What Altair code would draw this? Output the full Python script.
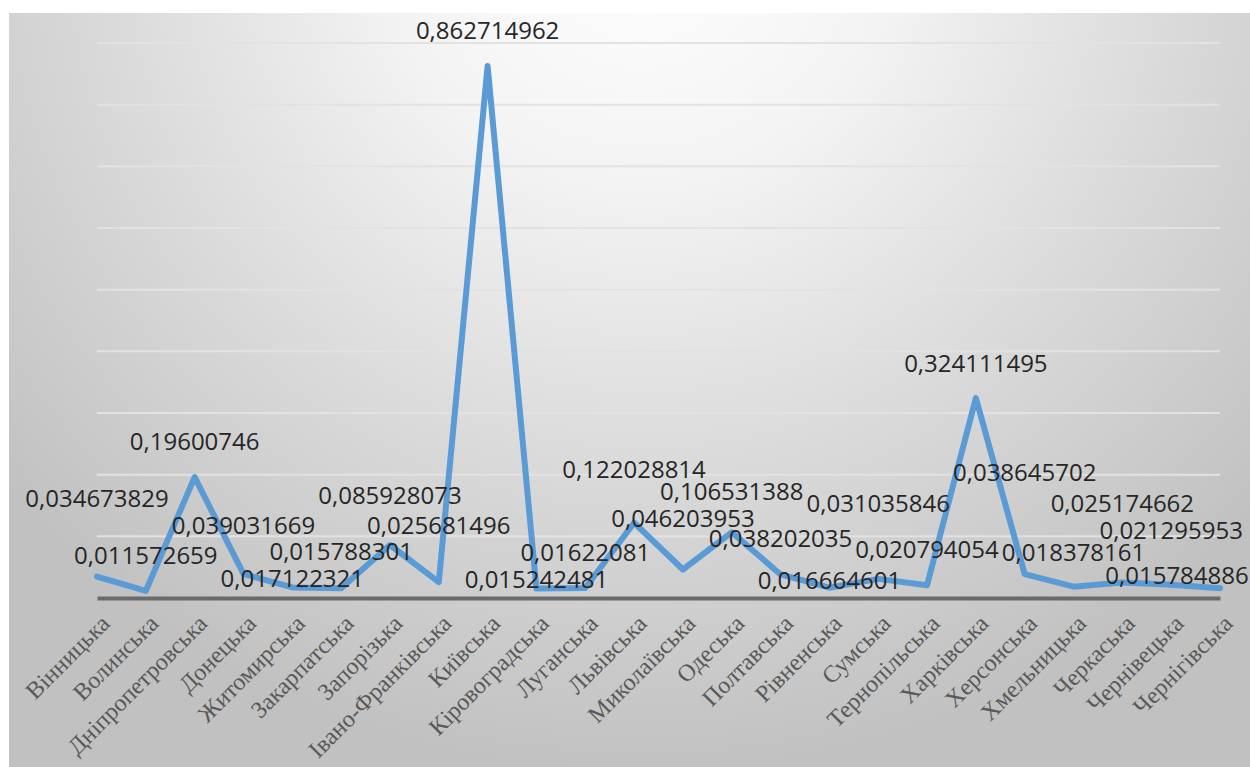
import altair as alt
import pandas as pd

regions = ["Вінницька", "Волинська", "Дніпропетровська", "Донецька", "Житомирська",
           "Закарпатська", "Запорізька", "Івано-Франківська", "Київська", "Кіровоградська",
           "Луганська", "Львівська", "Миколаївська", "Одеська", "Полтавська", "Рівненська",
           "Сумська", "Тернопільська", "Харківська", "Херсонська", "Хмельницька",
           "Черкаська", "Чернівецька", "Чернігівська"]
values = [0.034673829, 0.011572659, 0.19600746, 0.039031669, 0.017122321,
          0.015788301, 0.085928073, 0.025681496, 0.862714962, 0.015242481,
          0.01622081, 0.122028814, 0.046203953, 0.106531388, 0.038202035, 0.016664601,
          0.031035846, 0.020794054, 0.324111495, 0.038645702, 0.018378161,
          0.025174662, 0.021295953, 0.015784886]
grid_values = [0.1, 0.2, 0.3, 0.4, 0.5, 0.6, 0.7, 0.8, 0.9]

# label nudges (pixels), layout only
label_dy = [-77, -34, -34, -47, -7, -35, -48, -55, -34, -8, -34, -52, -50, -39,
            -34, -6, -74, -34, -33, -100, -33, -77, -53, -11]
label_dx = [0] * 23 + [-43]

W, H = 1123, 555
YMAX = 0.9
PAD = {"left": 97, "top": 43, "right": 30, "bottom": 169}

df = pd.DataFrame({
    "region": regions,
    "value": values,
    "label": [str(v).replace(".", ",") for v in values],
    "dy": label_dy,
    "dx": label_dx,
})
grid_df = pd.DataFrame({"g": grid_values})
bg_df = pd.DataFrame({"bg": [0]})

yscale = alt.Scale(domain=[0, YMAX], nice=False, zero=True)
xenc = alt.X("region:N", sort=regions,
             scale=alt.Scale(type="point", padding=0),
             axis=alt.Axis(title=None, labelAngle=-45, labelFont="Liberation Serif",
                           labelFontSize=24, labelColor="#595959", domainColor="#6a6a6a",
                           domainWidth=4, ticks=False, labelPadding=13, grid=False,
                           zindex=1, labelOverlap=False, labelLimit=400))

gradient = alt.RadialGradient(
    gradient="radial", x1=0.51, y1=0.13, x2=0.51, y2=0.13, r1=0, r2=0.68,
    stops=[alt.GradientStop(offset=0, color="#ffffff"),
           alt.GradientStop(offset=0.3, color="#f3f3f3"),
           alt.GradientStop(offset=0.65, color="#d9d9d9"),
           alt.GradientStop(offset=1, color="#c1c1c1")])

bg = alt.Chart(bg_df).mark_rect(fill=gradient, stroke=None).encode(
    x=alt.value(9 - PAD["left"]), x2=alt.value(W + PAD["right"]),
    y=alt.value(13 - PAD["top"]), y2=alt.value(H + PAD["bottom"]))

grid = alt.Chart(grid_df).mark_rule(color="#e2e2e2", strokeWidth=2).encode(
    y=alt.Y("g:Q", scale=yscale, axis=None),
    x=alt.value(0), x2=alt.value(W))

line = alt.Chart(df).mark_line(color="#5b9bd5", strokeWidth=6, strokeJoin="round",
                               strokeCap="round").encode(
    x=xenc, y=alt.Y("value:Q", scale=yscale, axis=None))

text = alt.Chart(df).transform_calculate(
    label_y=f"datum.value - datum.dy * {YMAX} / {H}"
).mark_text(font="Open Sans", fontSize=24, color="#262626",
            baseline="middle", align="center").encode(
    x=alt.X("region:N", sort=regions),
    y=alt.Y("label_y:Q", scale=yscale),
    xOffset=alt.XOffset("dx:Q", scale=None),
    text="label:N")

chart = alt.layer(bg, grid, line, text).properties(
    width=W, height=H, autosize="none", padding=PAD, background="#ffffff"
).configure_view(stroke=None)

chart.save("out.html", embed_options={"renderer": "svg", "actions": False})
